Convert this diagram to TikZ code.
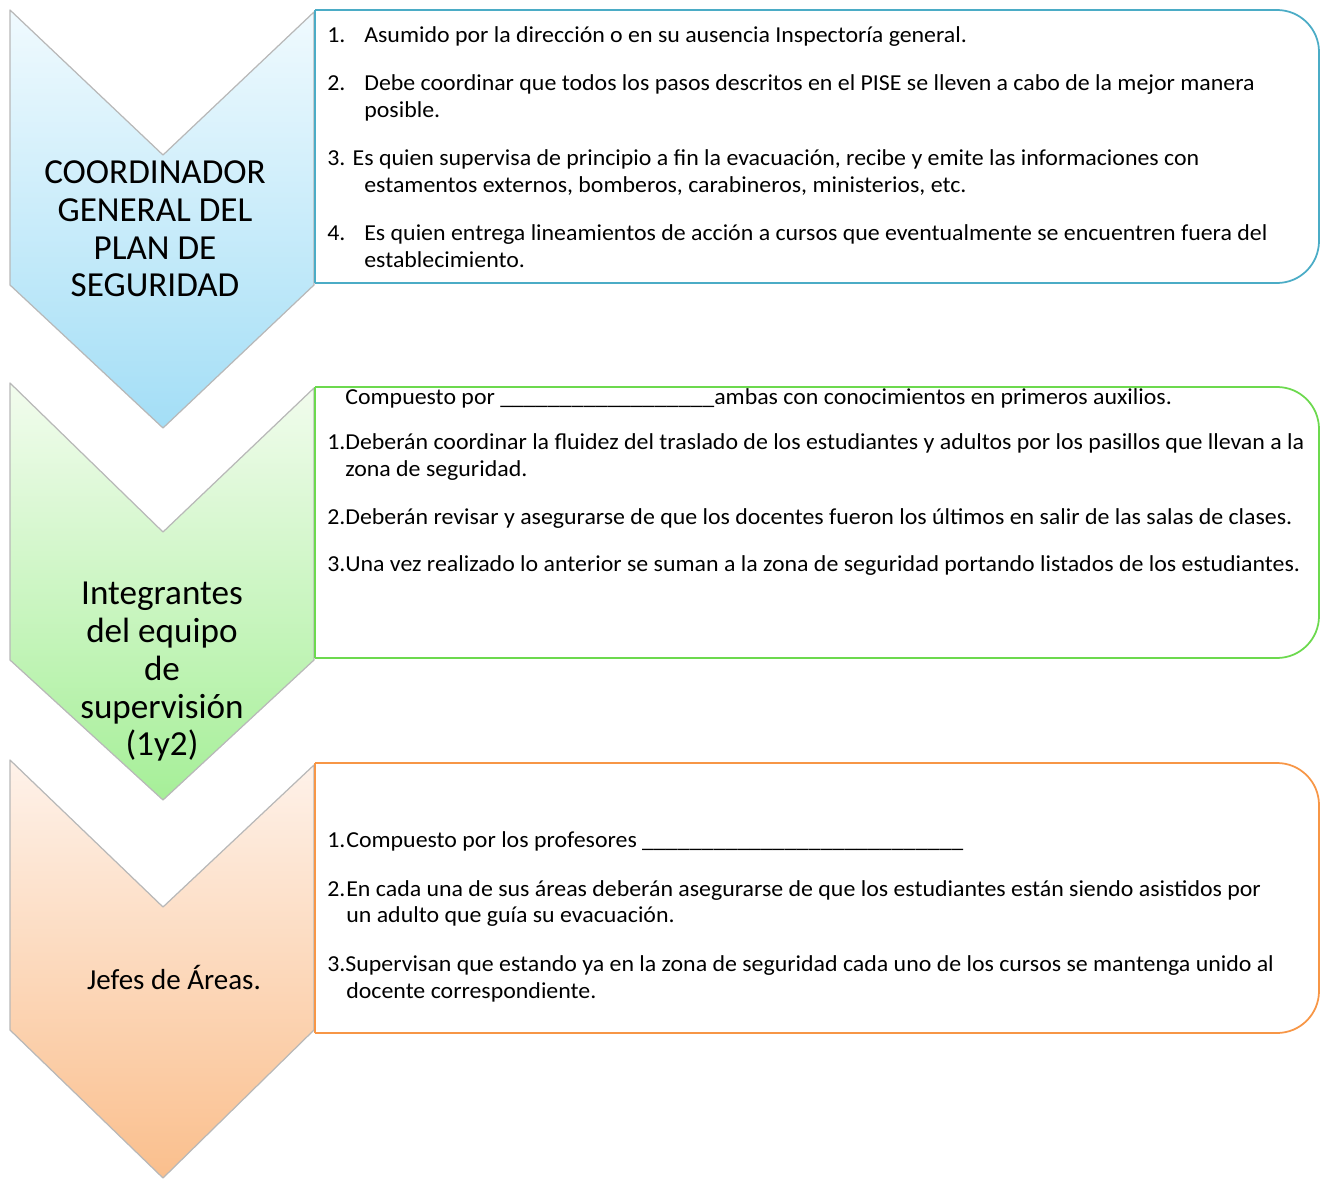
\documentclass[tikz,border=0pt]{standalone}
\usepackage{fontspec}
\setmainfont{Carlito}
\newfontfamily\itemfont{Carlito}[FakeStretch=1.045]
\usetikzlibrary{calc}

\definecolor{blueline}{HTML}{4BACC6}
\definecolor{greenline}{HTML}{6CD94E}
\definecolor{orangeline}{HTML}{F79646}
\definecolor{bluetop}{HTML}{F0FAFE}
\definecolor{bluebot}{HTML}{A3DEF6}
\definecolor{greentop}{HTML}{F2FCEE}
\definecolor{greenbot}{HTML}{A6EF98}
\definecolor{orangetop}{HTML}{FEF2EA}
\definecolor{orangebot}{HTML}{FABF8D}

\begin{document}
\begin{tikzpicture}[x=0.02cm, y=-0.02cm,
    chevron/.style={draw=black!28, line width=0.7pt, line join=round},
    boxline/.style={line width=1pt},
    item/.style={anchor=base west, inner sep=0pt, font=\itemfont\fontsize{13}{15.5}\selectfont},
    title/.style={align=center, inner sep=0pt, font=\fontsize{20}{21.5}\selectfont}]
    \useasboundingbox (0,0) rectangle (1325,1182);

    \coordinate (A1) at (10,10);
    \coordinate (B1) at (163,155);
    \coordinate (C1) at (314,12);
    \coordinate (D1) at (314,285);
    \coordinate (E1) at (163,428);
    \coordinate (F1) at (10,285);

    \coordinate (A2) at (10,383);
    \coordinate (B2) at (163,532);
    \coordinate (C2) at (314,388);
    \coordinate (D2) at (314,660);
    \coordinate (E2) at (163,800);
    \coordinate (F2) at (10,660);

    \coordinate (A3) at (10,760);
    \coordinate (B3) at (163,907);
    \coordinate (C3) at (314,765);
    \coordinate (D3) at (314,1030);
    \coordinate (E3) at (163,1178);
    \coordinate (F3) at (10,1030);

    \draw[chevron, top color=orangetop, bottom color=orangebot] (A3) -- (B3) -- (C3) -- (D3) -- (E3) -- (F3) -- cycle;
    \draw[chevron, top color=greentop, bottom color=greenbot] (A2) -- (B2) -- (C2) -- (D2) -- (E2) -- (F2) -- cycle;
    \draw[chevron, top color=bluetop, bottom color=bluebot] (A1) -- (B1) -- (C1) -- (D1) -- (E1) -- (F1) -- cycle;

    \node[title] (coord) at (155,229) {COORDINADOR\\GENERAL DEL\\PLAN DE\\SEGURIDAD};
    \node[title] (integ) at (162,672) {Integrantes\\del equipo\\de\\supervisión\\(1y2)};
    \node[title, font=\fontsize{16.5}{19}\selectfont] (jefes) at (174,978) {Jefes de Áreas.};

    \coordinate (P1) at (315,10);
    \coordinate (Q1) at (1319,10);
    \coordinate (R1) at (1319,283);
    \coordinate (S1) at (315,283);
    \draw[boxline, blueline, rounded corners=0.84cm] (P1) -- (Q1) -- (R1) -- (S1);
    \draw[boxline, blueline] (S1) -- (P1);

    \coordinate (P2) at (315,387);
    \coordinate (Q2) at (1319,387);
    \coordinate (R2) at (1319,658);
    \coordinate (S2) at (315,658);
    \draw[boxline, greenline, rounded corners=0.84cm] (P2) -- (Q2) -- (R2) -- (S2);
    \draw[boxline, greenline] (S2) -- (P2);

    \coordinate (P3) at (315,763);
    \coordinate (Q3) at (1319,763);
    \coordinate (R3) at (1319,1033);
    \coordinate (S3) at (315,1033);
    \draw[boxline, orangeline, rounded corners=0.84cm] (P3) -- (Q3) -- (R3) -- (S3);
    \draw[boxline, orangeline] (S3) -- (P3);

    \node[item] (b1) at (327,43) {\makebox[0.74cm][l]{1.}Asumido por la dirección o en su ausencia Inspectoría general.};
    \node[item] (b2) at (327,91) {\makebox[0.74cm][l]{2.}Debe coordinar que todos los pasos descritos en el PISE se lleven a cabo de la mejor manera};
    \node[item] (b2b) at (364,118) {posible.};
    \node[item] (b3) at (327,166) {3. Es quien supervisa de principio a fin la evacuación, recibe y emite las informaciones con};
    \node[item] (b3b) at (364,193) {estamentos externos, bomberos, carabineros, ministerios, etc.};
    \node[item] (b4) at (327,241) {\makebox[0.74cm][l]{4.}Es quien entrega lineamientos de acción a cursos que eventualmente se encuentren fuera del};
    \node[item] (b4b) at (364,268) {establecimiento.};

    \node[item] (g0) at (345,404) {Compuesto por \_\_\_\_\_\_\_\_\_\_\_\_\_\_\_\_\_\_ambas con conocimientos en primeros auxilios.};
    \node[item] (g1) at (327,449) {\makebox[0.36cm][l]{1.}Deberán coordinar la fluidez del traslado de los estudiantes y adultos por los pasillos que llevan a la};
    \node[item] (g1b) at (345,476) {zona de seguridad.};
    \node[item] (g2) at (327,524) {\makebox[0.36cm][l]{2.}Deberán revisar y asegurarse de que los docentes fueron los últimos en salir de las salas de clases.};
    \node[item] (g3) at (327,571) {3.Una vez realizado lo anterior se suman a la zona de seguridad portando listados de los estudiantes.};

    \node[item] (o1) at (327,847) {\makebox[0.38cm][l]{1.}Compuesto por los profesores \_\_\_\_\_\_\_\_\_\_\_\_\_\_\_\_\_\_\_\_\_\_\_\_\_\_\_};
    \node[item] (o2) at (327,896) {\makebox[0.38cm][l]{2.}En cada una de sus áreas deberán asegurarse de que los estudiantes están siendo asistidos por};
    \node[item] (o2b) at (346,922) {un adulto que guía su evacuación.};
    \node[item] (o3) at (327,971) {3.Supervisan que estando ya en la zona de seguridad cada uno de los cursos se mantenga unido al};
    \node[item] (o3b) at (346,998) {docente correspondiente.};
\end{tikzpicture}
\end{document}
